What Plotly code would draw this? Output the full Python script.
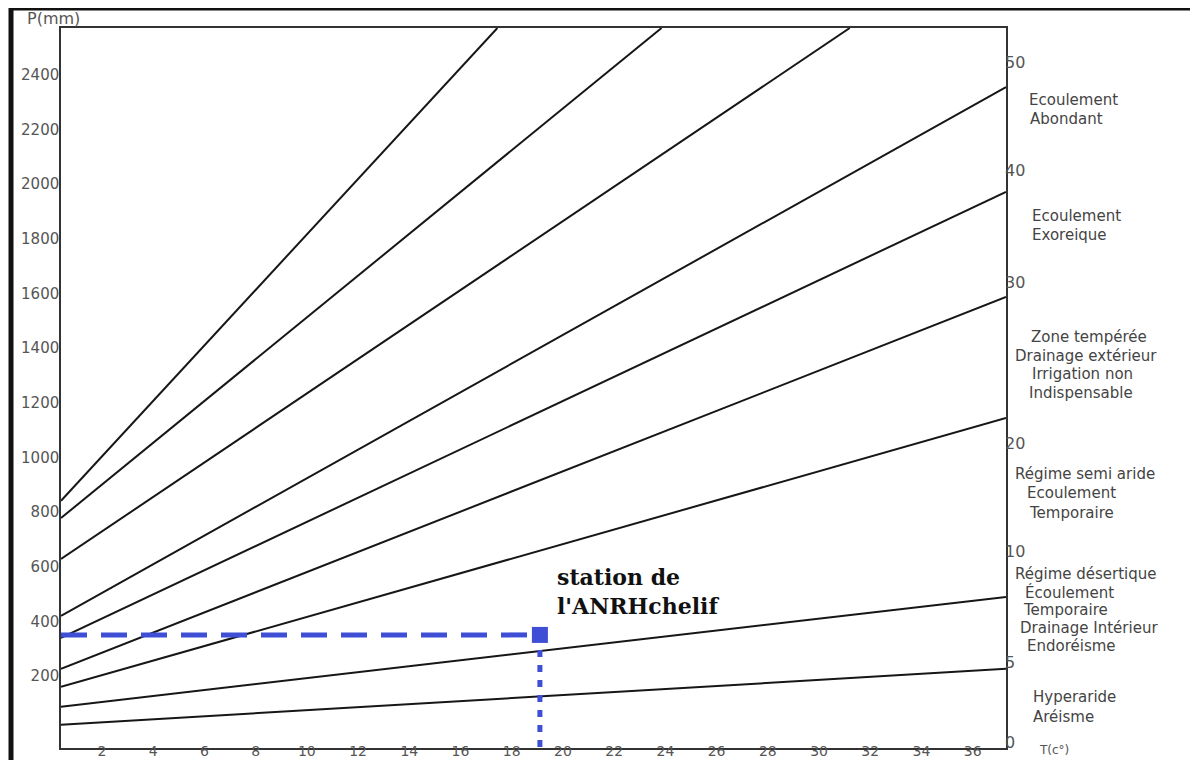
import plotly.graph_objects as go

# ---------------- data ----------------
# De Martonne abacus lines: start (T, P) and end (T, P)
line_T_start = [0.4, 0.4, 0.4, 0.4, 0.4, 0.4, 0.4, 0.4, 0.4]
line_P_start = [21, 87, 160, 226, 339, 420, 628, 778, 841]
line_T_end = [37.3, 37.3, 37.3, 37.3, 37.3, 37.3, 31.2, 23.85, 17.44]
line_P_end = [226, 489, 1144, 1587, 1972, 2356, 2572, 2572, 2572]

station_T = 19.1
station_P = 350
station_label = "station de<br>l'ANRHchelif"

x_tick_vals = [2, 4, 6, 8, 10, 12, 14, 16, 18, 20, 22, 24, 26, 28, 30, 32, 34, 36]
y_tick_vals = [200, 400, 600, 800, 1000, 1200, 1400, 1600, 1800, 2000, 2200, 2400]
index_tick_labels = ["50", "40", "30", "20", "10", "5", "0"]
index_tick_P = [2447, 2052, 1642, 1053, 654, 248, -42]

zone_labels = [
    ("Ecoulement", 1027, 100), ("Abondant", 1028, 119),
    ("Ecoulement", 1030, 216), ("Exoreique", 1030, 235),
    ("Zone tempérée", 1029, 337), ("Drainage extérieur", 1013, 356),
    ("Irrigation non", 1030, 374), ("Indispensable", 1027, 393),
    ("Régime semi aride", 1013, 474), ("Ecoulement", 1025, 493),
    ("Temporaire", 1027, 513),
    ("Régime désertique", 1013, 574), ("Écoulement", 1023, 592),
    ("Temporaire", 1021, 610), ("Drainage Intérieur", 1018, 628),
    ("Endoréisme", 1025, 646),
    ("Hyperaride", 1031, 697), ("Aréisme", 1031, 717),
]

T_range = [0.4, 37.3]
P_range = [-64, 2572]

# ---------------- layout helpers (page pixel -> paper) ----------------
OFF = 8  # browser body margin
W, H = 1198 - OFF, 760 - OFF
PL, PR, PT, PB = 61, 1006, 28, 748  # plot area in page pixels
L, R, T, B = PL - OFF, W - (PR - OFF), PT - OFF, H - (PB - OFF)
PW, PH = PR - PL, PB - PT


def px(x):
    return (x - PL) / PW


def py(y):
    return (PB - y) / PH


fig = go.Figure()

for ts, ps, te, pe in zip(line_T_start, line_P_start, line_T_end, line_P_end):
    fig.add_trace(go.Scatter(x=[ts, te], y=[ps, pe], mode="lines",
                             line=dict(color="#161616", width=2),
                             showlegend=False, hoverinfo="skip"))

blue = "#3e4fd6"
fig.add_trace(go.Scatter(x=[T_range[0], station_T], y=[station_P, station_P], mode="lines",
                         line=dict(color=blue, width=5, dash="26px,14px"),
                         showlegend=False, hoverinfo="skip"))
fig.add_trace(go.Scatter(x=[station_T, station_T], y=[station_P, P_range[0]], mode="lines",
                         line=dict(color=blue, width=5, dash="7px,8px"),
                         showlegend=False, hoverinfo="skip"))
fig.add_trace(go.Scatter(x=[station_T], y=[station_P], mode="markers",
                         marker=dict(color=blue, size=16, symbol="square"),
                         showlegend=False, hoverinfo="skip"))

# invisible trace for right axis
fig.add_trace(go.Scatter(x=[T_range[0]], y=[P_range[0]], yaxis="y2", mode="markers",
                         marker=dict(opacity=0), showlegend=False, hoverinfo="skip"))

fig.add_annotation(x=station_T, y=station_P, xref="x", yref="y",
                   text=station_label, showarrow=False, xanchor="left", yanchor="middle",
                   align="left", xshift=15, yshift=43,
                   font=dict(family="DejaVu Serif", size=22, color="#111", weight="bold"))

for txt, x, y in zone_labels:
    fig.add_annotation(x=px(x), y=py(y), xref="paper", yref="paper", text=txt,
                       showarrow=False, xanchor="left", yanchor="middle",
                       font=dict(family="DejaVu Sans", size=15, color="#444"))

fig.add_annotation(x=px(25), y=py(18), xref="paper", yref="paper", text="P(mm)",
                   showarrow=False, xanchor="left", yanchor="middle",
                   font=dict(family="DejaVu Sans", size=16, color="#555"))
fig.add_annotation(x=px(1037), y=py(750), xref="paper", yref="paper", text="T(c°)",
                   showarrow=False, xanchor="left", yanchor="middle",
                   font=dict(family="DejaVu Sans", size=12, color="#555"))

# outer frame
fig.add_shape(type="line", xref="paper", yref="paper", x0=px(11), x1=px(11), y0=py(8), y1=py(760),
              line=dict(color="#111", width=5))
fig.add_shape(type="line", xref="paper", yref="paper", x0=px(9), x1=px(1195), y0=py(9), y1=py(9),
              line=dict(color="#111", width=3))
fig.add_shape(type="line", xref="paper", yref="paper", x0=px(1193), x1=px(1193), y0=py(8), y1=py(760),
              line=dict(color="#111", width=4))

tick_font = dict(family="DejaVu Sans", size=15, color="#555")
fig.update_layout(
    width=W, height=H,
    margin=dict(l=L, r=R, t=T, b=B, autoexpand=False),
    paper_bgcolor="white", plot_bgcolor="white",
    xaxis=dict(range=T_range, tickvals=x_tick_vals, showgrid=False, zeroline=False,
               showline=True, linecolor="#333", linewidth=1.5, mirror=True,
               ticks="", tickfont=dict(family="DejaVu Sans", size=14, color="#555"),
               ticklabelstandoff=-11, automargin=False),
    yaxis=dict(range=P_range, tickvals=y_tick_vals, showgrid=False, zeroline=False,
               showline=True, linecolor="#333", linewidth=1.5, mirror=True,
               ticks="", tickfont=tick_font, ticklabelstandoff=-3, automargin=False),
    yaxis2=dict(range=P_range, overlaying="y", side="right", tickvals=index_tick_P,
                ticktext=index_tick_labels, showgrid=False, zeroline=False, showline=False,
                ticks="", tickfont=dict(family="DejaVu Sans", size=16, color="#555"),
                ticklabelstandoff=-2, automargin=False),
)

fig.write_html("out.html")
